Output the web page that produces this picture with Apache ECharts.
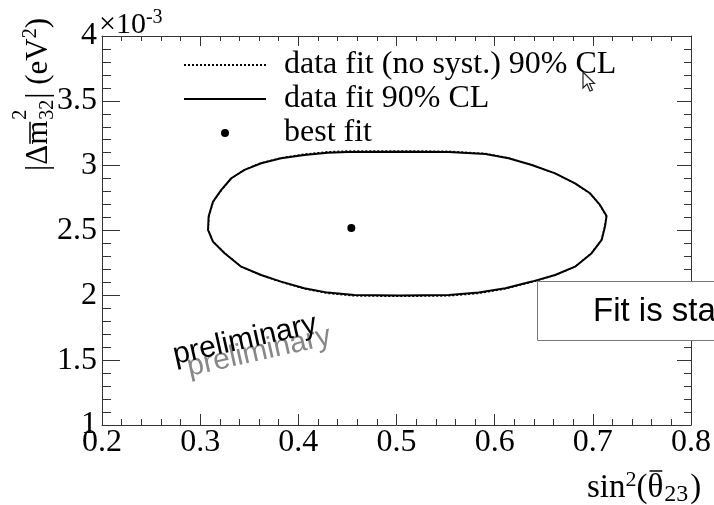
<!DOCTYPE html>
<html>
<head>
<meta charset="utf-8">
<script src="https://cdn.jsdelivr.net/npm/echarts@6/dist/echarts.min.js"></script>
<style>
  html, body { margin: 0; padding: 0; background: #fff; }
  #chart { width: 714px; height: 505px; }
</style>
</head>
<body>
<div id="chart"></div>
<script>
// 90% CL contour, fit including systematics (closed polygon, sin^2 theta23 vs |dm^2_32| in 1e-3 eV^2)
const contourX = [0.3086, 0.3130, 0.3215, 0.3317, 0.3452, 0.3621, 0.3824, 0.4061, 0.4297, 0.4500,
  0.5076, 0.5533, 0.5906, 0.6142, 0.6379, 0.6616, 0.6819, 0.6972, 0.7073, 0.7140,
  0.7124, 0.7090, 0.6988, 0.6819, 0.6616, 0.6379, 0.6109, 0.5838, 0.5533, 0.5025,
  0.4569, 0.4297, 0.4061, 0.3824, 0.3621, 0.3418, 0.3249, 0.3130, 0.3080, 0.3086];
const contourY = [2.607, 2.722, 2.813, 2.903, 2.967, 3.019, 3.057, 3.083, 3.100, 3.106,
  3.108, 3.106, 3.090, 3.057, 3.005, 2.941, 2.864, 2.787, 2.697, 2.612,
  2.530, 2.427, 2.325, 2.221, 2.157, 2.106, 2.055, 2.021, 2.003, 1.998,
  2.003, 2.021, 2.055, 2.106, 2.157, 2.221, 2.325, 2.414, 2.504, 2.607];

// 90% CL contour, statistics-only fit
const noSystX = [0.3090, 0.3134, 0.3219, 0.3321, 0.3455, 0.3624, 0.3826, 0.4062, 0.4298, 0.4500,
  0.5076, 0.5533, 0.5905, 0.6140, 0.6376, 0.6612, 0.6815, 0.6968, 0.7069, 0.7136,
  0.7120, 0.7086, 0.6984, 0.6815, 0.6612, 0.6376, 0.6107, 0.5837, 0.5533, 0.5025,
  0.4569, 0.4298, 0.4062, 0.3826, 0.3624, 0.3421, 0.3253, 0.3134, 0.3084, 0.3090];
const noSystY = [2.607, 2.720, 2.812, 2.905, 2.970, 3.023, 3.062, 3.090, 3.108, 3.114,
  3.115, 3.112, 3.095, 3.060, 3.006, 2.941, 2.863, 2.786, 2.696, 2.612,
  2.531, 2.428, 2.326, 2.219, 2.153, 2.101, 2.049, 2.014, 1.995, 1.991,
  1.995, 2.014, 2.049, 2.101, 2.153, 2.219, 2.325, 2.414, 2.504, 2.607];

// best-fit point
const bestFit = [0.454, 2.52];

// axis ranges and tick spacing
const xRange = [0.2, 0.8], xStep = 0.1;
const yRange = [1, 4], yStep = 0.5;

const seriesNames = ['data fit (no syst.) 90% CL', 'data fit 90% CL', 'best fit'];

const SERIF = '"Liberation Serif", "Times New Roman", serif';
const SANS = '"Liberation Sans", Arial, sans-serif';

function pairs(xs, ys) { return xs.map((x, i) => [x, ys[i]]); }
const measureCtx = document.createElement('canvas').getContext('2d');
function textWidth(str, size) {
  measureCtx.font = size + 'px ' + SERIF;
  return measureCtx.measureText(str).width;
}

const chart = echarts.init(document.getElementById('chart'), null, { renderer: 'canvas' });

const frameColor = '#333';
function frameAxis(extra, tickLen, minorLen) {
  return Object.assign({
    type: 'value',
    axisLine: { show: true, onZero: false, lineStyle: { color: frameColor, width: 1 } },
    splitLine: { show: false },
    axisTick: { show: true, inside: true, length: tickLen, lineStyle: { color: frameColor } },
    minorTick: { show: true, splitNumber: 5, length: minorLen, lineStyle: { color: frameColor } },
    axisLabel: { show: false }
  }, extra);
}

const tickLabel = { show: true, color: '#000', fontFamily: SERIF, fontSize: 32 };

const xAxisMain = frameAxis({ min: xRange[0], max: xRange[1], interval: xStep, position: 'bottom',
  axisLabel: Object.assign({ margin: 2 }, tickLabel) }, 11, 6);
const xAxisTop = frameAxis({ min: xRange[0], max: xRange[1], interval: xStep, position: 'top' }, 10, 5);
const yAxisMain = frameAxis({ min: yRange[0], max: yRange[1], interval: yStep, position: 'left',
  axisLabel: Object.assign({ margin: 5 }, tickLabel) }, 18, 9);
const yAxisRight = frameAxis({ min: yRange[0], max: yRange[1], interval: yStep, position: 'right' }, 14, 7);

// vertical axis title, laid out along a rotated baseline (local x runs upward on screen)
const yFont = 31, ySmall = 20;
const yHead = '|Δm';
const yHeadW = textWidth(yHead, yFont);
const yBarStart = textWidth('|Δ', yFont);
const ySubW = textWidth('32', ySmall);
const yTail = '| (eV';
const yTailW = textWidth(yTail, yFont);
const ySupW = textWidth('2', ySmall);
function yPiece(text, x, y, size) {
  return { type: 'text', x: x, y: y,
    style: { text: text, font: size + 'px ' + SERIF, fill: '#000', verticalAlign: 'bottom' } };
}

// horizontal axis title pieces
const xFont = 33, xSmall = 22, xSub = 24;
const xThetaStart = textWidth('sin', xFont) + textWidth('2', xSmall) + textWidth('(', xFont);
const xThetaW = textWidth('θ', xFont);
const xTitleLeft = 587, xTitleBase = 496;

const graphics = [
  // multiplier of the vertical axis
  {
    type: 'text', left: 99, top: 8, z: 50,
    style: {
      text: '×10{sup|-3}', fill: '#000', font: '30px ' + SERIF,
      rich: { sup: { fontSize: 20, fontFamily: SERIF, verticalAlign: 'top', fill: '#000', padding: [0, 0, 14, 0] } }
    }
  },
  // vertical axis title
  {
    type: 'group', x: 54, y: 171, rotation: Math.PI / 2, z: 50,
    children: [
      yPiece(yHead, 0, 0, yFont),
      { type: 'line', shape: { x1: yBarStart + 1, y1: -24, x2: yHeadW - 1, y2: -24 },
        style: { stroke: '#000', lineWidth: 1.5 } },
      yPiece('2', yHeadW + 1, -23, ySmall),
      yPiece('32', yHeadW + 1, 4, ySmall),
      yPiece(yTail, yHeadW + ySubW + 2, 0, yFont),
      yPiece('2', yHeadW + ySubW + 2 + yTailW, -13, ySmall),
      yPiece(')', yHeadW + ySubW + 2 + yTailW + ySupW, 0, yFont)
    ]
  },
  // horizontal axis title
  {
    type: 'text', left: xTitleLeft, top: xTitleBase - 27, z: 50,
    style: {
      text: 'sin{sup|2}(θ{sub|23})', fill: '#000', font: xFont + 'px ' + SERIF,
      rich: {
        sup: { fontSize: xSmall, fontFamily: SERIF, fill: '#000', verticalAlign: 'top', padding: [0, 0, 14, 0] },
        sub: { fontSize: xSub, fontFamily: SERIF, fill: '#000', verticalAlign: 'bottom', padding: [14, 2, 0, 1] }
      }
    }
  },
  {
    type: 'line', z: 50,
    shape: { x1: xTitleLeft + xThetaStart + 2, y1: xTitleBase - 25, x2: xTitleLeft + xThetaStart + xThetaW - 1, y2: xTitleBase - 25 },
    style: { stroke: '#000', lineWidth: 1.5 }
  },
  // watermark
  {
    type: 'text', x: 259, y: 352, rotation: 0.22, z: 40,
    style: { text: 'preliminary', font: '30px ' + SANS, fill: '#888', align: 'center', verticalAlign: 'middle' }
  },
  {
    type: 'text', x: 245, y: 340, rotation: 0.22, z: 41,
    style: { text: 'preliminary', font: '30px ' + SANS, fill: '#000', align: 'center', verticalAlign: 'middle' }
  },
  // caption box
  {
    type: 'rect', z: 60,
    shape: { x: 537.5, y: 281.5, width: 200, height: 59 },
    style: { fill: '#fff', stroke: '#777', lineWidth: 1 }
  },
  {
    type: 'text', x: 593, y: 312, z: 61,
    style: { text: 'Fit is sta', font: '33px ' + SANS, fill: '#000', verticalAlign: 'middle' }
  },
  // pointer arrow
  {
    type: 'polygon', x: 583, y: 72, z: 70,
    shape: { points: [[0, 0], [0, 16], [4, 12], [7, 19], [9.5, 18], [6.5, 11.5], [11.5, 11.5]] },
    style: { fill: '#fff', stroke: '#222', lineWidth: 1.2 }
  }
];

chart.setOption({
  animation: false,
  backgroundColor: '#fff',
  grid: { left: 102, right: 21, top: 36, bottom: 80, containLabel: false },
  xAxis: [xAxisMain, xAxisTop],
  yAxis: [yAxisMain, yAxisRight],
  legend: {
    data: [
      { name: seriesNames[0], itemStyle: { opacity: 0 } },
      { name: seriesNames[1], itemStyle: { opacity: 0 } },
      { name: seriesNames[2], itemStyle: { opacity: 1 } }
    ],
    orient: 'vertical',
    left: 178, top: 44,
    itemWidth: 82, itemHeight: 8, itemGap: 2,
    textStyle: { fontFamily: SERIF, fontSize: 32, color: '#000', lineHeight: 32, padding: [0, 0, 0, 13] },
    selectedMode: false
  },
  series: [
    {
      name: seriesNames[0], type: 'line', xAxisIndex: 0, yAxisIndex: 0,
      data: pairs(noSystX, noSystY), symbol: 'none', smooth: false,
      itemStyle: { color: '#000' },
      lineStyle: { color: '#000', width: 1.2, type: [2, 2] }, z: 3
    },
    {
      name: seriesNames[1], type: 'line', xAxisIndex: 0, yAxisIndex: 0,
      data: pairs(contourX, contourY), symbol: 'none', smooth: false,
      itemStyle: { color: '#000' },
      lineStyle: { color: '#000', width: 2 }, z: 4
    },
    {
      name: seriesNames[2], type: 'scatter', xAxisIndex: 0, yAxisIndex: 0,
      data: [bestFit], symbol: 'circle', symbolSize: 8,
      itemStyle: { color: '#000', opacity: 1 }, z: 5
    }
  ],
  graphic: graphics
});
</script>
</body>
</html>
